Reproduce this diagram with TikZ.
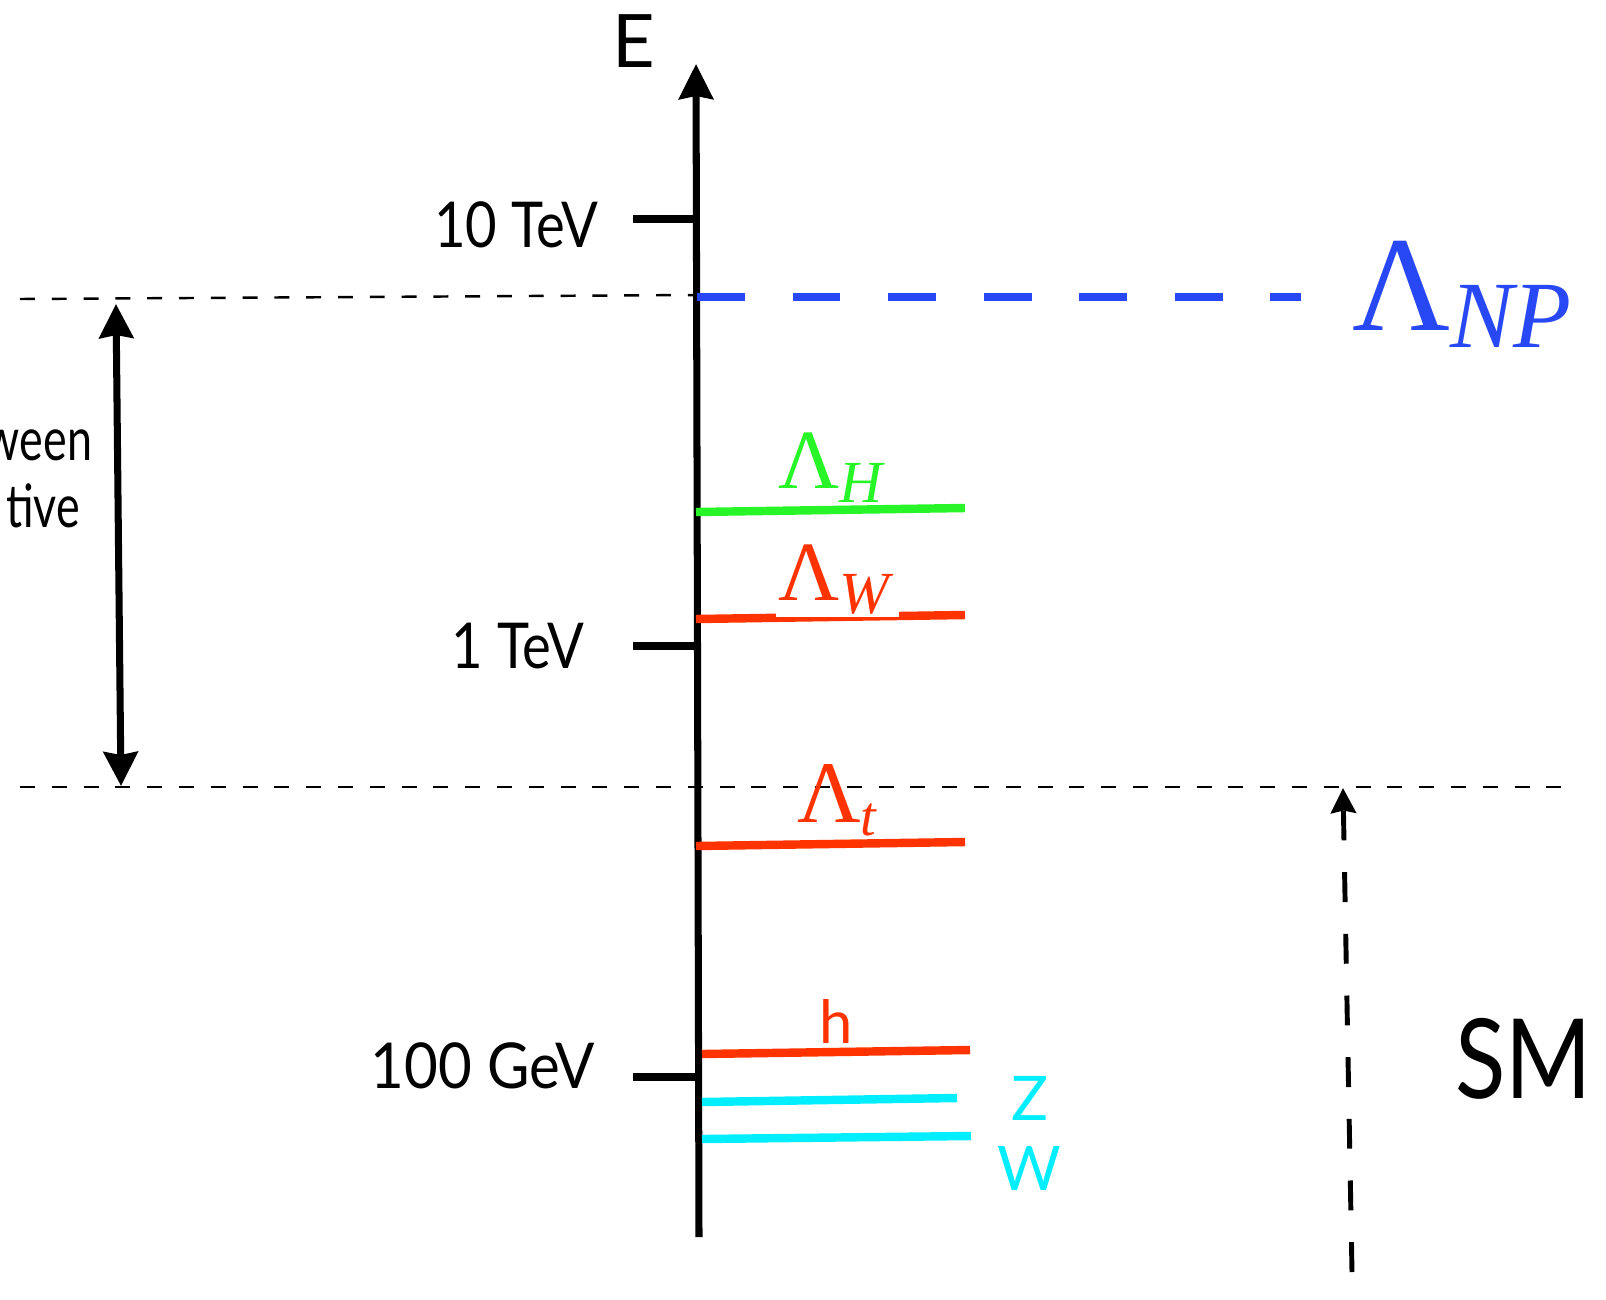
\documentclass[tikz,border=0pt]{standalone}
\usepackage{fontspec}
\usetikzlibrary{arrows.meta}
\newfontfamily\sansf{Lato}
\newfontfamily\tms{Liberation Serif}
\definecolor{npblue}{RGB}{40,72,245}
\definecolor{lgreen}{RGB}{40,245,40}
\definecolor{lred}{RGB}{255,51,0}
\definecolor{lcyan}{RGB}{0,238,255}
\newcommand\LamSub[4]{{\tms\fontsize{#1}{#1}\selectfont Λ}\raisebox{-#3}{\tms\itshape\fontsize{#2}{#2}\selectfont #4}}
\newcommand\narrowtxt[2]{\scalebox{#1}[1]{#2}}
\tikzset{
  axisline/.style={line width=4pt,black},
  tickline/.style={line width=4.3pt,black},
  thindash/.style={line width=1.4pt,black,dash pattern=on 8.5pt off 9.6pt},
  levelline/.style={line width=4.8pt},
  bigtip/.style={-{Stealth[length=0.7cm,width=0.68cm,inset=0.06cm]}},
  lbl/.style={inner sep=0pt,outer sep=0pt},
}
\begin{document}
\begin{tikzpicture}[x=0.02cm,y=-0.02cm]
\clip (0,0) rectangle (1606,1299);
\useasboundingbox (0,0) rectangle (1606,1299);
% axis
\coordinate (axbot) at (699,1237);
\coordinate (axtop) at (696,64);
\draw[axisline,bigtip] (axbot) -- (axtop);
\node[lbl,anchor=base west,font=\sansf\fontsize{42}{48}\selectfont] (E) at (612,67) {E};
% ticks
\coordinate (t10a) at (633,219); \coordinate (t10b) at (697,219);
\coordinate (t1a) at (633,646); \coordinate (t1b) at (698,646);
\coordinate (t100a) at (633,1077); \coordinate (t100b) at (699,1077);
\draw[tickline] (t10a) -- (t10b);
\draw[tickline] (t1a) -- (t1b);
\draw[tickline] (t100a) -- (t100b);
\node[lbl,anchor=base east,font=\sansf\fontsize{36}{42}\selectfont] (l10) at (598,247) {\narrowtxt{0.86}{10 TeV}};
\node[lbl,anchor=base east,font=\sansf\fontsize{36}{42}\selectfont] (l1) at (584,668) {\narrowtxt{0.86}{1 TeV}};
\node[lbl,anchor=base east,font=\sansf\fontsize{36}{42}\selectfont] (l100) at (595,1088) {\narrowtxt{0.92}{100 GeV}};
% dashed horizontal lines
\coordinate (d1a) at (20,299); \coordinate (d1b) at (696,295);
\draw[thindash] (d1a) -- (d1b);
\coordinate (d2a) at (20,787); \coordinate (d2b) at (1567,787);
\draw[thindash] (d2a) -- (d2b);
% NP line
\coordinate (npa) at (697,297); \coordinate (npb) at (1301,297);
\draw[npblue,line width=4.5pt,dash pattern=on 27.2pt off 27.2pt] (npa) -- (npb);
\node[lbl,anchor=base west,text=npblue] (LNP) at (1352,330) {\LamSub{77pt}{54pt}{10pt}{NP}};
% left double arrow
\coordinate (la) at (116,304); \coordinate (lb) at (121,786);
\draw[line width=4pt,{Stealth[length=0.68cm,width=0.68cm,inset=0.06cm]}-{Stealth[length=0.68cm,width=0.68cm,inset=0.06cm]}] (la) -- (lb);
\node[lbl,anchor=base east,font=\sansf\fontsize{34}{40}\selectfont] (tx1) at (92,460) {\narrowtxt{0.75}{ween}};
\node[lbl,anchor=base east,font=\sansf\fontsize{34}{40}\selectfont] (tx2) at (80,527) {\narrowtxt{0.75}{tive}};
% level lines
\coordinate (ha) at (696,512); \coordinate (hb) at (965,508);
\draw[levelline,lgreen] (ha) -- (hb);
\node[lbl,anchor=base west,text=lgreen] (LH) at (778,488) {\LamSub{48pt}{34pt}{8pt}{H}};
\coordinate (wa) at (696,619); \coordinate (wb) at (965,615);
\draw[levelline,lred] (wa) -- (wb);
\fill[white] (776,598) rectangle (899,616.5);
\node[lbl,anchor=base west,text=lred] (LW) at (778,600) {\LamSub{48pt}{34pt}{7.4pt}{W}};
\coordinate (ta) at (696,846); \coordinate (tb) at (965,842);
\draw[levelline,lred] (ta) -- (tb);
\node[lbl,anchor=base west,text=lred] (Lt) at (797,822) {\LamSub{50pt}{32pt}{7.4pt}{t}};
\coordinate (hha) at (702,1054); \coordinate (hhb) at (970,1050);
\draw[levelline,lred] (hha) -- (hhb);
\node[lbl,anchor=base west,text=lred,font=\sansf\fontsize{34}{40}\selectfont] (hl) at (819,1043) {h};
\coordinate (za) at (702,1102); \coordinate (zb) at (957,1098);
\draw[levelline,lcyan] (za) -- (zb);
\node[lbl,anchor=base west,text=lcyan,font=\sansf\fontsize{35}{40}\selectfont] (zl) at (1011,1120) {Z};
\coordinate (wwa) at (702,1139); \coordinate (wwb) at (971,1136);
\draw[levelline,lcyan] (wwa) -- (wwb);
\node[lbl,anchor=base west,text=lcyan,font=\sansf\fontsize{35}{40}\selectfont] (wl) at (997,1190) {W};
% SM arrow
\coordinate (sma) at (1352,1272); \coordinate (smb) at (1343,788);
\draw[line width=2.8pt,dash pattern=on 17pt off 18.1pt,-{Stealth[length=0.5cm,width=0.5cm,inset=0.05cm]}] (sma) -- (smb);
\node[lbl,anchor=base west,font=\sansf\fontsize{63}{70}\selectfont] (SM) at (1455,1098) {\narrowtxt{0.84}{SM}};
\end{tikzpicture}
\end{document}
